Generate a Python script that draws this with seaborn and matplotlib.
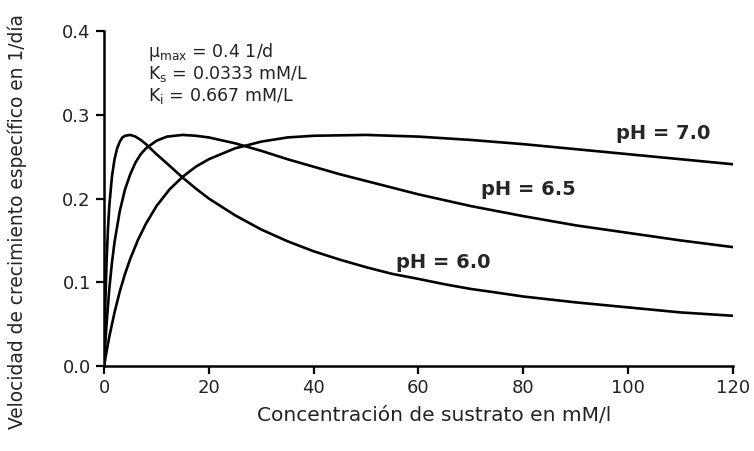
import matplotlib
matplotlib.use("Agg")

import numpy as np
import pandas as pd
import matplotlib.pyplot as plt
import seaborn as sns

# Valores (concentración en mM/l, velocidad en 1/día)
sustrato_ph60 = [0, 0.25, 0.5, 0.75, 1, 1.5, 2, 2.5, 3, 3.5, 4, 5, 6, 7, 8, 10,
                 12, 15, 17.5, 20, 25, 30, 35, 40, 45, 50, 55, 60, 65, 70, 75,
                 80, 90, 100, 110, 120]
mu_ph60 = [0.0, 0.077, 0.128, 0.164, 0.191, 0.226, 0.247, 0.260, 0.268, 0.273,
           0.275, 0.276, 0.274, 0.270, 0.265, 0.253, 0.242, 0.225, 0.212,
           0.200, 0.180, 0.163, 0.149, 0.137, 0.127, 0.118, 0.110, 0.104,
           0.0976, 0.092, 0.0876, 0.083, 0.076, 0.070, 0.064, 0.060]

sustrato_ph65 = [0, 0.25, 0.5, 1, 1.5, 2, 3, 4, 5, 6, 7, 8, 10, 12, 15, 17.5,
                 20, 25, 30, 35, 40, 45, 50, 55, 60, 70, 80, 90, 100, 110, 120]
mu_ph65 = [0.0, 0.028, 0.052, 0.092, 0.123, 0.148, 0.185, 0.211, 0.229, 0.243,
           0.253, 0.260, 0.269, 0.274, 0.276, 0.275, 0.273, 0.266, 0.257,
           0.247, 0.238, 0.229, 0.221, 0.213, 0.205, 0.191, 0.179, 0.168,
           0.159, 0.150, 0.142]

sustrato_ph70 = [0, 0.5, 1, 2, 3, 4, 5, 6.5, 8, 10, 12.5, 15, 17.5, 20, 25, 30,
                 35, 40, 50, 60, 70, 80, 90, 100, 110, 120]
mu_ph70 = [0.0, 0.018, 0.035, 0.064, 0.089, 0.110, 0.128, 0.151, 0.170, 0.191,
           0.211, 0.226, 0.238, 0.247, 0.260, 0.268, 0.273, 0.275, 0.276,
           0.274, 0.270, 0.265, 0.259, 0.253, 0.247, 0.241]

etiquetas = ["pH = 6.0", "pH = 6.5", "pH = 7.0"]
x_ticks = [0, 20, 40, 60, 80, 100, 120]
y_ticks = [0.0, 0.1, 0.2, 0.3, 0.4]

df = pd.concat([
    pd.DataFrame({"S": sustrato_ph60, "mu": mu_ph60, "pH": etiquetas[0]}),
    pd.DataFrame({"S": sustrato_ph65, "mu": mu_ph65, "pH": etiquetas[1]}),
    pd.DataFrame({"S": sustrato_ph70, "mu": mu_ph70, "pH": etiquetas[2]}),
])

sns.set_style("ticks")
plt.rcParams["font.family"] = ["DejaVu Sans"]

fig = plt.figure(figsize=(7.54, 4.51), dpi=100)
ax = fig.add_axes([0.138, 0.1885, 0.834, 0.7425])

sns.lineplot(data=df, x="S", y="mu", hue="pH", palette=["black"] * 3,
             linewidth=1.9, legend=False, ax=ax, sort=False)

ax.set_xlim(0, 120)
ax.set_ylim(0, 0.4)
ax.set_xticks(x_ticks)
ax.set_yticks(y_ticks)
ax.set_yticklabels([f"{v:.1f}" for v in y_ticks])
ax.tick_params(direction="out", length=6, width=1.6, labelsize=13,
               color="black", labelcolor="#222222")
for side in ["left", "bottom"]:
    ax.spines[side].set_linewidth(1.8)
    ax.spines[side].set_color("black")
sns.despine(ax=ax)

ax.set_xlabel("Concentración de sustrato en mM/l", fontsize=14.5, color="#222222")
ax.set_ylabel("Velocidad de crecimiento específico en 1/día", fontsize=13.4,
              color="#222222")
ax.xaxis.set_label_coords(0.525, -0.12)
ax.yaxis.set_label_coords(-0.122, 0.43)

# etiquetas de las curvas
ax.text(64.7, 0.124, etiquetas[0], fontsize=14, fontweight="bold", ha="center", va="center")
ax.text(81.0, 0.211, etiquetas[1], fontsize=14, fontweight="bold", ha="center", va="center")
ax.text(106.7, 0.278, etiquetas[2], fontsize=14, fontweight="bold", ha="center", va="center")

# parámetros del modelo
params = [r"μ$_{\mathrm{max}}$ = 0.4 1/d",
          r"K$_{\mathrm{s}}$ = 0.0333 mM/L",
          r"K$_{\mathrm{i}}$ = 0.667 mM/L"]
for txt, yv in zip(params, [0.375, 0.349, 0.322]):
    ax.text(8.4, yv, txt, fontsize=12.5, ha="left", va="center", color="#222222")

fig.savefig("out.png", dpi=100)
